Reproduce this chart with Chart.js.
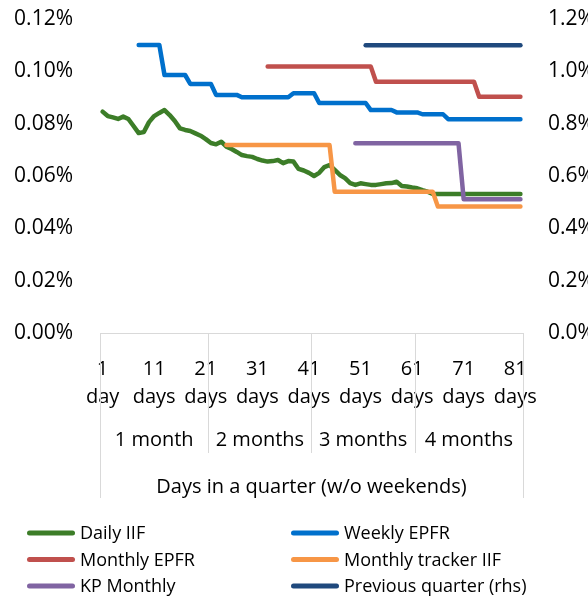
<!DOCTYPE html>
<html><head><meta charset="utf-8">
<script src="https://cdn.jsdelivr.net/npm/chart.js@4.4.1/dist/chart.umd.min.js"></script>
<style>html,body{margin:0;padding:0;background:#fff;}#wrap{width:588px;height:597px;position:relative;}</style>
</head><body><div id="wrap"><canvas id="c"></canvas></div>
<script>
const N = null;
const days = [1,2,3,4,5,6,7,8,9,10,11,12,13,14,15,16,17,18,19,20,21,22,23,24,25,26,27,28,29,30,31,32,33,34,35,36,37,38,39,40,41,42,43,44,45,46,47,48,49,50,51,52,53,54,55,56,57,58,59,60,61,62,63,64,65,66,67,68,69,70,71,72,73,74,75,76,77,78,79,80,81,82];
const months = ['1 month','2 months','3 months','4 months'];
const monthLastDay = [21,41,61,82];
const axisTitle = 'Days in a quarter (w/o weekends)';
const seriesNames = ['Daily IIF','Weekly EPFR','Monthly EPFR','Monthly tracker IIF','KP Monthly','Previous quarter (rhs)'];

const dailyIIF = [0.0846,0.0829,0.0824,0.0818,0.0827,0.0818,0.0791,0.0764,0.0768,0.0806,
 0.0829,0.0841,0.0852,0.0833,0.0810,0.0782,0.0776,0.0772,0.0763,0.0754,
 0.0741,0.0726,0.0721,0.0731,0.0712,0.0703,0.0692,0.0680,0.0676,0.0673,
 0.0665,0.0659,0.0655,0.0657,0.0661,0.0649,0.0657,0.0655,0.0627,0.0621,
 0.0612,0.0600,0.0612,0.0634,0.0642,0.0623,0.0604,0.0592,0.0573,0.0566,
 0.0572,0.0569,0.0566,0.0566,0.0569,0.0572,0.0573,0.0578,0.0562,0.0560,
 0.0556,0.0553,0.0546,0.0540,0.0531,0.0531,0.0531,0.0531,0.0531,0.0531,
 0.0531,0.0531,0.0531,0.0531,0.0531,0.0531,0.0531,0.0531,0.0531,0.0531,
 0.0531,0.0531];
const weeklyEPFR = [N,N,N,N,N,N,N,0.1101,0.1101,0.1101,
 0.1101,0.1101,0.0986,0.0986,0.0986,0.0986,0.0986,0.0952,0.0952,0.0952,
 0.0952,0.0952,0.0910,0.0910,0.0910,0.0910,0.0910,0.0901,0.0901,0.0901,
 0.0901,0.0901,0.0901,0.0901,0.0901,0.0901,0.0901,0.0916,0.0916,0.0916,
 0.0916,0.0916,0.0879,0.0879,0.0879,0.0879,0.0879,0.0879,0.0879,0.0879,
 0.0879,0.0879,0.0852,0.0852,0.0852,0.0852,0.0852,0.0843,0.0843,0.0843,
 0.0843,0.0843,0.0836,0.0836,0.0836,0.0836,0.0836,0.0817,0.0817,0.0817,
 0.0817,0.0817,0.0817,0.0817,0.0817,0.0817,0.0817,0.0817,0.0817,0.0817,
 0.0817,0.0817];
const monthlyEPFR = [N,N,N,N,N,N,N,N,N,N,
 N,N,N,N,N,N,N,N,N,N,
 N,N,N,N,N,N,N,N,N,N,
 N,N,0.1018,0.1018,0.1018,0.1018,0.1018,0.1018,0.1018,0.1018,
 0.1018,0.1018,0.1018,0.1018,0.1018,0.1018,0.1018,0.1018,0.1018,0.1018,
 0.1018,0.1018,0.1018,0.0960,0.0960,0.0960,0.0960,0.0960,0.0960,0.0960,
 0.0960,0.0960,0.0960,0.0960,0.0960,0.0960,0.0960,0.0960,0.0960,0.0960,
 0.0960,0.0960,0.0960,0.0903,0.0903,0.0903,0.0903,0.0903,0.0903,0.0903,
 0.0903,0.0903];
const trackerIIF = [N,N,N,N,N,N,N,N,N,N,
 N,N,N,N,N,N,N,N,N,N,
 N,N,N,N,0.0718,0.0718,0.0718,0.0718,0.0718,0.0718,
 0.0718,0.0718,0.0718,0.0718,0.0718,0.0718,0.0718,0.0718,0.0718,0.0718,
 0.0718,0.0718,0.0718,0.0718,0.0718,0.0540,0.0540,0.0540,0.0540,0.0540,
 0.0540,0.0540,0.0540,0.0540,0.0540,0.0540,0.0540,0.0540,0.0540,0.0540,
 0.0540,0.0540,0.0540,0.0540,0.0540,0.0483,0.0483,0.0483,0.0483,0.0483,
 0.0483,0.0483,0.0483,0.0483,0.0483,0.0483,0.0483,0.0483,0.0483,0.0483,
 0.0483,0.0483];
const kpMonthly = [N,N,N,N,N,N,N,N,N,N,
 N,N,N,N,N,N,N,N,N,N,
 N,N,N,N,N,N,N,N,N,N,
 N,N,N,N,N,N,N,N,N,N,
 N,N,N,N,N,N,N,N,N,0.0725,
 0.0725,0.0725,0.0725,0.0725,0.0725,0.0725,0.0725,0.0725,0.0725,0.0725,
 0.0725,0.0725,0.0725,0.0725,0.0725,0.0725,0.0725,0.0725,0.0725,0.0725,
 0.0511,0.0511,0.0511,0.0511,0.0511,0.0511,0.0511,0.0511,0.0511,0.0511,
 0.0511,0.0511];
const prevQuarter = [N,N,N,N,N,N,N,N,N,N,
 N,N,N,N,N,N,N,N,N,N,
 N,N,N,N,N,N,N,N,N,N,
 N,N,N,N,N,N,N,N,N,N,
 N,N,N,N,N,N,N,N,N,N,
 N,1.10,1.10,1.10,1.10,1.10,1.10,1.10,1.10,1.10,
 1.10,1.10,1.10,1.10,1.10,1.10,1.10,1.10,1.10,1.10,
 1.10,1.10,1.10,1.10,1.10,1.10,1.10,1.10,1.10,1.10,
 1.10,1.10];

const colors = ['#3c7d28','#0070cc','#c0504d','#f79646','#8064a2','#1f497d'];
const allSeries = [dailyIIF, weeklyEPFR, monthlyEPFR, trackerIIF, kpMonthly, prevQuarter];
const FONT = "'Open Sans','Noto Sans',sans-serif";
const FS_Y = 21, FS_X = 20, FS_G = 20, FS_L = 18;
const TXT = '#000000';
const LINEC = '#d9d9d9';

const datasets = allSeries.map((d, i) => ({
  label: seriesNames[i], data: d, borderColor: colors[i], backgroundColor: colors[i],
  borderWidth: 4.5, pointRadius: 0, pointHoverRadius: 0, tension: 0, spanGaps: false,
  borderCapStyle: 'round', borderJoinStyle: 'round', fill: false,
  yAxisID: i === 5 ? 'y2' : 'y', order: 6 - i
}));

const groupPlugin = {
  id: 'groups',
  afterDraw(chart) {
    const ctx = chart.ctx, xs = chart.scales.x, ca = chart.chartArea;
    const w = xs.getPixelForValue(1) - xs.getPixelForValue(0);
    const edge = d => xs.getPixelForValue(d - 1) + w / 2;
    const bottom = ca.bottom;
    ctx.save();
    ctx.strokeStyle = LINEC; ctx.lineWidth = 1;
    const left = xs.getPixelForValue(0) - w / 2;
    const right = edge(days[days.length - 1]);
    ctx.beginPath();
    ctx.moveTo(Math.round(left) + 0.5, bottom); ctx.lineTo(Math.round(left) + 0.5, bottom + 165);
    ctx.moveTo(Math.round(right) + 0.5, bottom); ctx.lineTo(Math.round(right) + 0.5, bottom + 165);
    monthLastDay.slice(0, -1).forEach(d => {
      const x = Math.round(edge(d)) + 0.5;
      ctx.moveTo(x, bottom); ctx.lineTo(x, bottom + 120);
    });
    ctx.stroke();
    ctx.fillStyle = TXT; ctx.font = FS_G + 'px ' + FONT;
    ctx.textAlign = 'center'; ctx.textBaseline = 'middle';
    let prev = left;
    monthLastDay.forEach((d, i) => {
      const e = edge(d);
      ctx.fillText(months[i], (prev + e) / 2, bottom + 107);
      prev = e;
    });
    ctx.fillText(axisTitle, (left + right) / 2, bottom + 154);
    const cols = [27, 291], rows = [533, 559.5, 586];
    ctx.font = FS_L + 'px ' + FONT;
    chart.data.datasets.forEach((ds, i) => {
      const x0 = cols[i % 2], y = rows[Math.floor(i / 2)];
      ctx.strokeStyle = ds.borderColor; ctx.lineWidth = 5; ctx.lineCap = 'round';
      ctx.beginPath(); ctx.moveTo(x0 + 2.5, y); ctx.lineTo(x0 + 45.5, y); ctx.stroke();
      ctx.textAlign = 'left'; ctx.fillStyle = TXT;
      ctx.fillText(ds.label, x0 + 53, y + 1);
    });
    ctx.restore();
  }
};

new Chart(document.getElementById('c'), {
  type: 'line',
  data: { labels: days, datasets },
  plugins: [groupPlugin],
  options: {
    responsive: true, maintainAspectRatio: false, animation: false,
    layout: { padding: { top: 19, left: 0, right: 0, bottom: 0 } },
    plugins: { legend: { display: false }, tooltip: { enabled: false } },
    scales: {
      x: {
        type: 'category', offset: true,
        grid: { display: false, drawTicks: false },
        border: { display: true, color: LINEC, width: 1 },
        ticks: {
          autoSkip: false, maxRotation: 0, minRotation: 0, padding: 22,
          color: TXT, font: { family: FONT, size: FS_X, lineHeight: 1.42 },
          callback: function(v, idx) {
            const d = days[idx];
            return idx % 10 === 0 ? [String(d), d === 1 ? 'day' : 'days'] : '';
          }
        },
        afterFit(s) { s.height = 264; s.paddingLeft = 0; s.paddingRight = 0; }
      },
      y: {
        position: 'left', min: 0, max: 0.12,
        grid: { display: false, drawTicks: false }, border: { display: false },
        ticks: { stepSize: 0.02, padding: 27, color: TXT, font: { family: FONT, size: FS_Y, lineHeight: 1.2 },
          callback: v => v.toFixed(2) + '%' },
        afterFit(s) { s.width = 100; s.paddingTop = 0; s.paddingBottom = 0; }
      },
      y2: {
        position: 'right', min: 0, max: 1.2,
        grid: { display: false, drawTicks: false }, border: { display: false },
        ticks: { stepSize: 0.2, padding: 25, color: TXT, font: { family: FONT, size: FS_Y, lineHeight: 1.2 },
          callback: v => v.toFixed(1) + '%' },
        afterFit(s) { s.width = 65; s.paddingTop = 0; s.paddingBottom = 0; }
      }
    }
  }
});
</script>
</body></html>
